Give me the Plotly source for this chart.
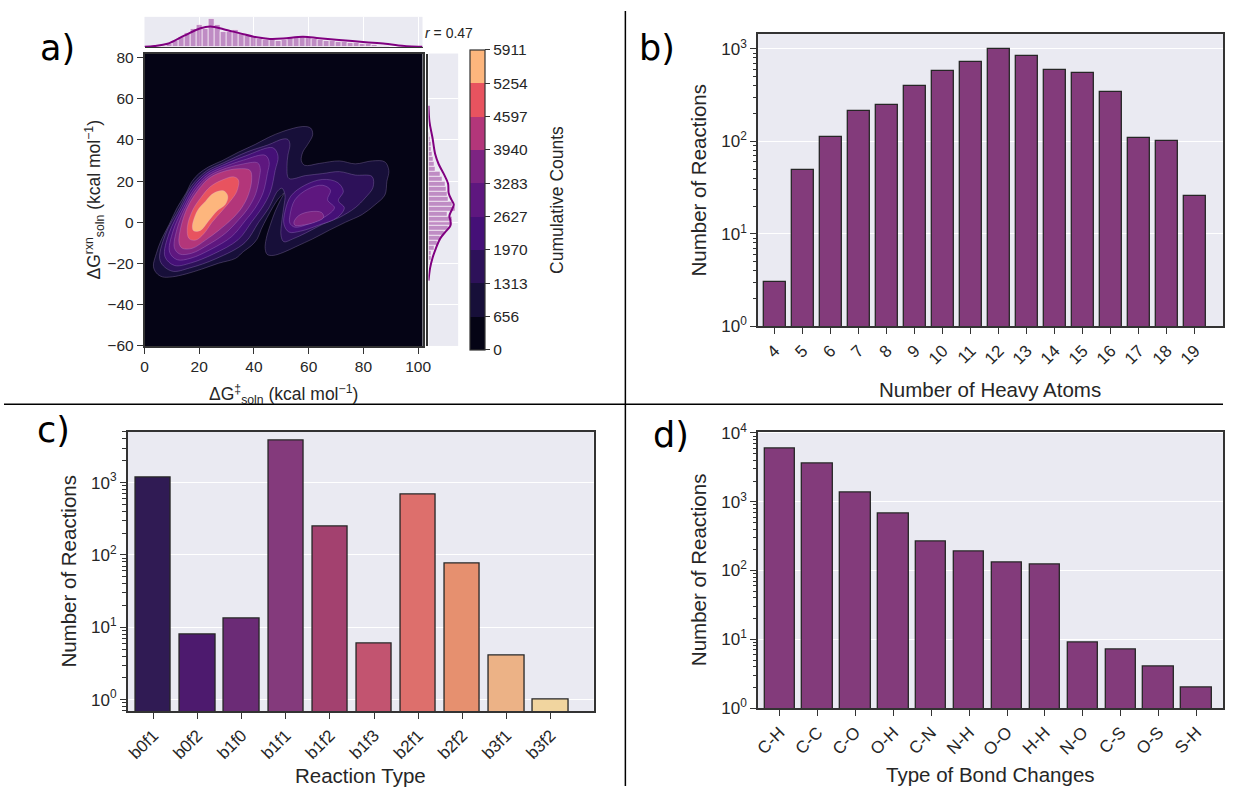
import plotly.graph_objects as go

# The page body keeps its default 8 px margin, so the figure is sized to fill
# a 1248 x 812 window exactly and positions below are given in window pixels.
PAGE_W, PAGE_H, BODY_PAD = 1248, 812, 8
W, H = PAGE_W - 2 * BODY_PAD, PAGE_H - 2 * BODY_PAD

FONT = "Liberation Sans, Arial, sans-serif"
INK = "#262626"
SPINE = "#333333"
PANEL_BG = "#EAEAF2"
BAR_PURPLE = "#833b7b"

# ---------------- (a) barrier vs reaction free energy -----------------
level_bounds = [0, 656, 1313, 1970, 2627, 3283, 3940, 4597, 5254, 5911]
level_colors = ["#050415", "#170f39", "#2d1159", "#451077", "#5e177f",
                "#7d2482", "#b3367a", "#e8535f", "#fdb67d"]

# density contour outlines in kcal/mol (x = barrier, y = reaction energy)
lv1_x = [3.25, 4.34, 6.15, 9.04, 11.93, 15.18, 17.35, 19.88, 23.50, 28.20, 34.34, 40.49,
         45.19, 50.61, 57.84, 60.73, 61.46, 59.65, 57.84, 57.30, 58.56, 63.99, 71.22,
         77.00, 83.15, 87.84, 89.29, 88.57, 87.84, 84.23, 79.53, 73.38, 67.60, 61.46,
         55.31, 50.61, 47.00, 44.83, 44.10, 44.46, 45.91, 47.72, 49.53, 50.97, 49.16,
         46.99, 44.83, 42.66, 41.21, 39.04, 36.15, 33.26, 27.11, 20.97, 15.18, 10.12,
         6.51, 4.34]
lv1_y = [-21.3, -15.1, -8.5, -0.95, 7.09, 14.18, 19.86, 23.64, 26.95, 29.79, 34.04, 37.82,
         41.13, 44.11, 46.48, 45.72, 42.55, 37.82, 34.04, 29.93, 27.66, 28.60, 29.79,
         28.37, 29.79, 29.31, 25.06, 19.86, 13.24, 8.51, 3.78, 0.0, -3.78, -8.04,
         -11.82, -14.66, -16.08, -15.60, -12.77, -8.04, -1.42, 5.20, 10.40, 14.18, 11.82,
         7.56, 2.36, -3.31, -8.04, -11.35, -14.18, -17.49, -19.86, -22.69, -25.06, -26.48,
         -26.48, -24.59]

lv2_x = [5.71, 7.56, 12.98, 17.17, 22.77, 28.81, 37.81, 45.19, 50.61, 52.42, 53.14, 52.42,
         52.06, 52.78, 58.92, 65.07, 71.22, 77.00, 83.15, 83.51, 80.61, 77.00, 71.22,
         65.07, 58.92, 54.23, 50.97, 49.89, 50.25, 50.97, 51.33, 50.25, 48.66, 45.30,
         41.68, 36.66, 26.14, 16.52, 10.01]
lv2_y = [-18.68, -6.15, 7.47, 17.73, 25.06, 28.89, 34.33, 37.59, 40.42, 40.19, 37.82, 32.62,
         26.95, 21.28, 22.69, 23.64, 24.59, 22.93, 22.22, 17.02, 11.82, 7.09, 2.36,
         -0.95, -5.20, -8.04, -9.46, -6.62, 1.42, 8.04, 13.24, 16.55, 15.18, 6.71,
         -0.05, -9.88, -17.64, -22.17, -23.69]

lv3_left_x = [7.45, 9.00, 13.63, 17.68, 22.96, 28.67, 36.95, 46.89, 48.80, 47.75, 45.98,
              42.84, 39.22, 34.27, 25.20, 16.74, 10.95]
lv3_left_y = [-16.60, -5.20, 7.38, 17.07, 24.11, 27.80, 32.24, 36.17, 32.15, 25.20, 14.70,
              6.81, 0.33, -8.37, -15.37, -19.81, -20.95]
lv3_right_x = [51.33, 53.50, 58.56, 65.07, 70.49, 72.66, 70.85, 73.02, 70.49, 63.62, 57.12,
               52.78, 50.97]
lv3_right_y = [5.20, 12.77, 17.97, 20.80, 19.38, 15.13, 10.40, 7.09, 2.36, -1.42, -4.26,
               -4.73, -0.95]

lv4_left_x = [9.18, 10.41, 14.32, 18.22, 23.14, 28.56, 36.08, 44.10, 45.55, 44.90, 43.31,
              40.42, 36.80, 31.88, 24.22, 16.99, 11.93]
lv4_left_y = [-14.47, -4.26, 7.28, 16.36, 23.17, 26.67, 30.16, 32.53, 29.31, 23.64, 14.28,
              6.90, 0.76, -6.90, -13.14, -17.40, -18.16]
lv4_right_x = [53.14, 54.95, 59.65, 65.07, 67.96, 66.88, 69.41, 66.15, 59.65, 54.95, 53.14]
lv4_right_y = [3.31, 10.87, 16.08, 17.97, 15.60, 10.87, 7.09, 2.84, -0.95, -2.36, -0.47]

lv5_left_x = [10.92, 11.86, 14.97, 18.73, 23.32, 28.41, 35.21, 41.36, 42.30, 42.01, 40.63,
              37.96, 34.34, 29.50, 23.28, 17.21, 12.87]
lv5_left_y = [-12.39, -3.31, 7.19, 15.70, 22.22, 25.58, 28.08, 28.84, 26.00, 22.03, 13.81,
              7.00, 1.13, -5.39, -10.87, -15.03, -15.41]
lv5_right_x = [54.59, 56.39, 60.73, 64.71, 65.43, 62.18, 57.48, 54.95]
lv5_right_y = [0.0, 3.31, 5.20, 4.73, 2.36, 0.0, -1.42, -1.42]

lv6_x = [12.65, 13.27, 15.65, 19.27, 23.50, 28.31, 34.34, 38.57, 39.15, 37.96, 35.54,
         31.92, 27.11, 22.30, 17.46, 13.85]
lv6_y = [-10.26, -2.36, 7.09, 14.99, 21.28, 24.44, 26.00, 25.20, 20.47, 13.38, 7.09,
         1.56, -3.92, -8.65, -12.62, -12.62]

lv7_x = [15.65, 17.46, 20.50, 24.11, 28.31, 32.54, 34.34, 33.73, 31.34, 28.31, 24.69,
         21.69, 18.69, 16.27]
lv7_y = [-2.36, 5.53, 11.82, 17.35, 20.47, 22.08, 20.47, 14.99, 10.26, 5.53, 0.0,
         -5.53, -8.65, -7.90]

lv8_x = [17.46, 19.27, 22.30, 25.31, 28.92, 30.47, 29.53, 26.50, 23.50, 20.50, 18.08]
lv8_y = [-2.36, 5.53, 10.26, 14.18, 15.27, 12.62, 8.65, 5.53, 0.80, -3.92, -4.26]

# marginal histograms and density curves
top_hist_start, top_hist_width = 1.5, 2.2
top_hist_counts = [1, 3, 5, 9, 18, 30, 45, 55, 68, 57, 88, 68, 48, 48, 52, 42, 35, 30, 25,
                   22, 22, 20, 22, 28, 28, 32, 27, 25, 22, 20, 18, 15, 15, 12, 12, 10, 10,
                   8, 5, 4, 2, 1]
top_kde_x = [0, 3.6, 8.4, 14.5, 20.5, 24.1, 28.9, 35.0, 41.0, 45.8, 50.6, 57.9, 63.9,
             71.1, 80.8, 88.0, 92.8, 100.0, 101.6]
top_kde_y = [0.5, 3, 10, 35, 58, 63, 55, 42, 30, 25, 26, 32, 27, 22, 15, 10, 5, 1, 0.5]

right_hist_start, right_hist_width = -21.0, 2.4
right_hist_counts = [4, 8, 10, 18, 28, 35, 48, 60, 70, 70, 55, 80, 72, 60, 55, 52, 50, 42,
                     35, 20, 18, 15, 12, 10, 8, 6, 4]
right_kde_y = [56.6, 48.7, 40.9, 33.0, 28.3, 23.6, 18.8, 14.1, 11.0, 8.6, 6.3, 3.1, 0.8,
               -1.6, -4.7, -7.8, -12.6, -17.3, -22.0, -28.3]
right_kde_x = [0, 3, 12, 20, 30, 45, 58, 60, 68, 75, 70, 62, 65, 65, 50, 35, 22, 12, 5, 0]

pearson_r = 0.47

# ---------------- (b) heavy atom counts -------------------------------
heavy_atoms = [str(n) for n in range(4, 20)]
heavy_counts = [3, 49, 112, 215, 249, 401, 582, 724, 992, 837, 587, 554, 344, 109, 101, 26]

# ---------------- (c) reaction types ----------------------------------
rxn_types = ["b0f1", "b0f2", "b1f0", "b1f1", "b1f2", "b1f3", "b2f1", "b2f2", "b3f1", "b3f2"]
rxn_counts = [1155, 8, 13, 3750, 245, 6, 681, 75, 4, 1]
rxn_colors = ["#301b54", "#4d1a6e", "#6b2b76", "#843a7c", "#a3416f", "#c25470",
              "#dd6f6c", "#e6906f", "#ecb286", "#f1d59f"]

# ---------------- (d) bond changes ------------------------------------
bond_types = ["C-H", "C-C", "C-O", "O-H", "C-N", "N-H", "O-O", "H-H", "N-O", "C-S", "O-S", "S-H"]
bond_counts = [5880, 3530, 1344, 667, 260, 189, 131, 123, 9, 7, 4, 2]


def px_x(p):
    return (p - BODY_PAD) / W


def px_y(p):
    return 1 - (p - BODY_PAD) / H


def closed(xs, ys):
    return list(xs) + [xs[0]], list(ys) + [ys[0]]


fig = go.Figure()

# filled density levels, outermost first
contours = [
    (1, lv1_x, lv1_y), (2, lv2_x, lv2_y),
    (3, lv3_left_x, lv3_left_y), (3, lv3_right_x, lv3_right_y),
    (4, lv4_left_x, lv4_left_y), (4, lv4_right_x, lv4_right_y),
    (5, lv5_left_x, lv5_left_y), (5, lv5_right_x, lv5_right_y),
    (6, lv6_x, lv6_y), (7, lv7_x, lv7_y), (8, lv8_x, lv8_y),
]
for lvl, xs, ys in contours:
    cx, cy = closed(xs, ys)
    fig.add_trace(go.Scatter(
        x=cx, y=cy, mode="lines", fill="toself", fillcolor=level_colors[lvl],
        line=dict(color="rgba(205,175,240,0.35)", width=0.7, shape="spline", smoothing=1.0),
        xaxis="x", yaxis="y", hoverinfo="skip", showlegend=False))

# discrete colour bar for the density levels
cb_scale = []
for i, c in enumerate(level_colors):
    cb_scale.append([level_bounds[i] / level_bounds[-1], c])
    cb_scale.append([level_bounds[i + 1] / level_bounds[-1], c])
fig.add_trace(go.Scatter(
    x=[None], y=[None], mode="markers", xaxis="x", yaxis="y", showlegend=False,
    hoverinfo="skip",
    marker=dict(color=[0], cmin=level_bounds[0], cmax=level_bounds[-1], colorscale=cb_scale,
                showscale=True,
                colorbar=dict(
                    x=px_x(479), xanchor="left", y=px_y(202), yanchor="middle",
                    len=300, lenmode="pixels", thickness=15, thicknessmode="pixels",
                    outlinewidth=1.2, outlinecolor=SPINE, xpad=0, ypad=0,
                    tickmode="array", tickvals=level_bounds,
                    ticktext=[str(b) for b in level_bounds],
                    ticks="outside", ticklen=5, tickcolor=SPINE,
                    tickfont=dict(family=FONT, size=15.5, color=INK)))))

# top marginal: barrier distribution
top_centers = [top_hist_start + (i + 0.5) * top_hist_width for i in range(len(top_hist_counts))]
fig.add_trace(go.Bar(
    x=top_centers, y=top_hist_counts, width=top_hist_width, xaxis="x2", yaxis="y2",
    marker=dict(color="rgba(128,0,128,0.4)", line=dict(color="white", width=0.6)),
    showlegend=False, hoverinfo="skip"))
fig.add_trace(go.Scatter(
    x=top_kde_x, y=top_kde_y, mode="lines", xaxis="x2", yaxis="y2",
    line=dict(color="purple", width=2, shape="spline"), showlegend=False, hoverinfo="skip"))

# right marginal: reaction energy distribution
right_centers = [right_hist_start + (i + 0.5) * right_hist_width
                 for i in range(len(right_hist_counts))]
fig.add_trace(go.Bar(
    y=right_centers, x=right_hist_counts, width=right_hist_width, orientation="h",
    xaxis="x3", yaxis="y3",
    marker=dict(color="rgba(128,0,128,0.4)", line=dict(color="white", width=0.6)),
    showlegend=False, hoverinfo="skip"))
fig.add_trace(go.Scatter(
    x=right_kde_x, y=right_kde_y, mode="lines", xaxis="x3", yaxis="y3",
    line=dict(color="purple", width=2, shape="spline"), showlegend=False, hoverinfo="skip"))

# bar panels
fig.add_trace(go.Bar(
    x=heavy_atoms, y=heavy_counts, width=0.8, xaxis="x4", yaxis="y4",
    marker=dict(color=BAR_PURPLE, line=dict(color=INK, width=1.3)),
    showlegend=False))
fig.add_trace(go.Bar(
    x=rxn_types, y=rxn_counts, width=0.8, xaxis="x5", yaxis="y5",
    marker=dict(color=rxn_colors, line=dict(color=INK, width=1.3)),
    showlegend=False))
fig.add_trace(go.Bar(
    x=bond_types, y=bond_counts, width=0.8, xaxis="x6", yaxis="y6",
    marker=dict(color=BAR_PURPLE, line=dict(color=INK, width=1.3)),
    showlegend=False))


def framed(domain, rng, tsize, **kw):
    ax = dict(domain=domain, range=rng, showline=True, mirror=True, linecolor=SPINE,
              linewidth=1.5, ticks="outside", ticklen=6, tickwidth=1.3, tickcolor=SPINE,
              tickfont=dict(family=FONT, size=tsize, color=INK), zeroline=False,
              showgrid=False)
    ax.update(kw)
    return ax


def title(text, size, standoff):
    return dict(text=text, font=dict(family=FONT, size=size, color=INK), standoff=standoff)


def log_minor(lo, hi):
    vals = []
    for e in range(-1, 5):
        for m in range(2, 10):
            v = m * 10 ** e
            if 10 ** lo <= v <= 10 ** hi:
                vals.append(v)
    return dict(tickmode="array", tickvals=vals, ticks="outside", ticklen=3.5,
                tickwidth=1, tickcolor=SPINE, showgrid=False)


def sup_labels(exps):
    return [10 ** e for e in exps], ["10<sup>%d</sup>" % e for e in exps]


x_main_dom = [px_x(150), px_x(431)]
y_main_dom = [px_y(352), px_y(51.7)]
x_main_rng = [0, 101.6]
y_main_rng = [-60, 81.9]

b_tv, b_tt = sup_labels([0, 1, 2, 3])
c_tv, c_tt = sup_labels([0, 1, 2, 3])
d_tv, d_tt = sup_labels([0, 1, 2, 3, 4])

TICK_A, TITLE_A = 15.5, 17.5
TICK_B, TITLE_B = 17, 20.5

fig.update_layout(
    width=W, height=H, margin=dict(l=0, r=0, t=0, b=0),
    paper_bgcolor="white", plot_bgcolor=PANEL_BG, bargap=0,
    font=dict(family=FONT, color=INK),
    xaxis=framed(x_main_dom, x_main_rng, TICK_A, anchor="y", tickmode="array",
                 tickvals=[0, 20, 40, 60, 80, 100]),
    yaxis=framed(y_main_dom, y_main_rng, TICK_A, anchor="x", tickmode="array",
                 tickvals=[-60, -40, -20, 0, 20, 40, 60, 80],
                 title=title("ΔG<sup>rxn</sup><sub>soln</sub> (kcal mol<sup>−1</sup>)",
                             TITLE_A, 2)),
    xaxis2=dict(domain=x_main_dom, range=x_main_rng, anchor="y2", showticklabels=False,
                ticks="", showgrid=True, gridcolor="white", gridwidth=1.2,
                tickmode="array", tickvals=[20, 40, 60, 80, 100], zeroline=False,
                showline=True, linecolor=SPINE, linewidth=1.2),
    yaxis2=dict(domain=[px_y(45), px_y(14)], range=[0, 93], anchor="x2",
                showticklabels=False, ticks="", showgrid=False, zeroline=False),
    xaxis3=dict(domain=[px_x(437), px_x(467)], range=[0, 88], anchor="y3",
                showticklabels=False, ticks="", showgrid=False, zeroline=False),
    yaxis3=dict(domain=y_main_dom, range=y_main_rng, anchor="x3", showticklabels=False,
                ticks="", showgrid=True, gridcolor="white", gridwidth=1.2,
                tickmode="array", tickvals=[-40, -20, 0, 20, 40, 60], zeroline=False,
                showline=True, linecolor=SPINE, linewidth=1.5),
    xaxis4=framed([px_x(770), px_x(1240)], [-0.6, 16.0], TICK_B, anchor="y4",
                  type="category", tickangle=-45),
    yaxis4=framed([px_y(332), px_y(31.7)], [0, 3.161], TICK_B, anchor="x4", type="log",
                  tickmode="array", tickvals=b_tv, ticktext=b_tt, showgrid=True,
                  gridcolor="white", gridwidth=1.3, minor=log_minor(0, 3.161),
                  title=title("Number of Reactions", TITLE_B, 9)),
    xaxis5=framed([px_x(133), px_x(604)], [-0.583, 9.975], TICK_B, anchor="y5",
                  type="category", tickangle=-45),
    yaxis5=framed([px_y(727), px_y(440)], [-0.157, 3.704], TICK_B, anchor="x5", type="log",
                  tickmode="array", tickvals=c_tv, ticktext=c_tt, showgrid=True,
                  gridcolor="white", gridwidth=1.3, minor=log_minor(-0.157, 3.704),
                  title=title("Number of Reactions", TITLE_B, 9)),
    xaxis6=framed([px_x(770), px_x(1240)], [-0.573, 11.70], TICK_B, anchor="y6",
                  type="category", tickangle=-45),
    yaxis6=framed([px_y(724), px_y(440)], [0, 4.02], TICK_B, anchor="x6", type="log",
                  tickmode="array", tickvals=d_tv, ticktext=d_tt, showgrid=True,
                  gridcolor="white", gridwidth=1.3, minor=log_minor(0, 4.02),
                  title=title("Number of Reactions", TITLE_B, 9)),
)

# x-axis captions, centred under their axes
x_captions = [
    ("ΔG<sup>‡</sup><sub>soln</sub> (kcal mol<sup>−1</sup>)", 290.5, 402, TITLE_A),
    ("Number of Heavy Atoms", 1005, 397, TITLE_B),
    ("Reaction Type", 368.5, 793, TITLE_B),
    ("Type of Bond Changes", 1005, 792, TITLE_B),
]
for text, x, y, size in x_captions:
    fig.add_annotation(text=text, x=px_x(x), y=px_y(y), xref="paper", yref="paper",
                       showarrow=False, font=dict(family=FONT, size=size, color=INK),
                       xanchor="center", yanchor="middle")

# dark field behind the density plot
fig.add_shape(type="rect", xref="x domain", yref="y domain", x0=0, x1=1, y0=0, y1=1,
              fillcolor=level_colors[0], line=dict(width=0), layer="below")

# panel separators
fig.add_shape(type="line", xref="paper", yref="paper", x0=px_x(636), x1=px_x(636),
              y0=0, y1=1, line=dict(color="black", width=1.5))
fig.add_shape(type="line", xref="paper", yref="paper", x0=0, x1=1,
              y0=px_y(412), y1=px_y(412), line=dict(color="black", width=1.5))

panel_font = dict(family="DejaVu Sans", size=35, color="black")
for label, x, y in [("a)", 62, 46), ("b)", 668, 46), ("c)", 58, 438), ("d)", 682, 443)]:
    fig.add_annotation(text=label, x=px_x(x), y=px_y(y), xref="paper", yref="paper",
                       showarrow=False, font=panel_font, xanchor="center", yanchor="middle")

fig.add_annotation(text="<i>r</i> = %.2f" % pearson_r, x=px_x(458), y=px_y(31),
                   xref="paper", yref="paper", showarrow=False,
                   font=dict(family=FONT, size=14, color=INK),
                   xanchor="center", yanchor="middle")

# colour bar caption
fig.add_annotation(text="Cumulative Counts", x=px_x(567), y=px_y(202), xref="paper",
                   yref="paper", showarrow=False, textangle=-90,
                   font=dict(family=FONT, size=17.5, color=INK),
                   xanchor="center", yanchor="middle")

fig.write_html("out.html")
